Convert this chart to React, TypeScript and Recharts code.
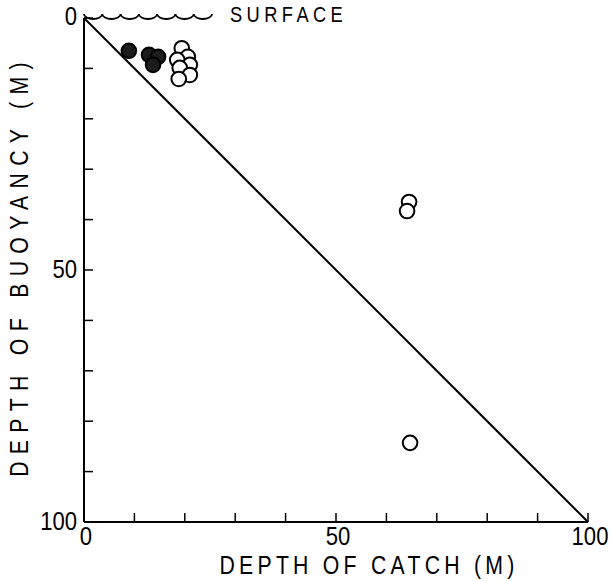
import { ScatterChart, Scatter, XAxis, YAxis, ReferenceLine, Label } from 'recharts';

const FONT = '"Liberation Sans", Arial, Helvetica, sans-serif';

// depths in metres
const axisTicks = [0, 10, 20, 30, 40, 50, 60, 70, 80, 90, 100];
const labelledTicks = [0, 50, 100];

const filledCatchDepth = [8.9, 12.9, 14.7, 13.7];
const filledBuoyDepth = [6.5, 7.3, 7.7, 9.3];

const openCatchDepth = [19.4, 20.6, 18.5, 21.0, 19.0, 21.0, 18.8, 64.5, 64.1, 64.7];
const openBuoyDepth = [6.0, 7.7, 8.3, 9.3, 9.9, 11.3, 12.1, 36.5, 38.3, 84.3];

const surfaceSpan = [0, 25.4];
const surfaceScallops = 7;
const surfaceText = 'SURFACE';
const xTitle = 'DEPTH OF CATCH (M)';
const yTitle = 'DEPTH OF BUOYANCY (M)';

const filledPts = filledCatchDepth.map((c, i) => ({ c, b: filledBuoyDepth[i] }));
const openPts = openCatchDepth.map((c, i) => ({ c, b: openBuoyDepth[i] }));

// condensed-looking text: squeeze Liberation Sans horizontally
const Txt = ({ x, y, size, sx = 0.85, ls = 0, anchor = 'start', rotate = 0, children }: any) => (
  <text
    transform={`translate(${x},${y}) rotate(${rotate}) scale(${sx},1)`}
    textAnchor={anchor}
    dominantBaseline="central"
    fontFamily={FONT}
    fontSize={size}
    letterSpacing={ls}
    fill="#000"
  >
    {children}
  </text>
);

const OpenDot = (p: any) => <circle cx={p.cx} cy={p.cy} r={7.3} fill="#fff" stroke="#000" strokeWidth={2} />;
const FilledDot = (p: any) => <circle cx={p.cx} cy={p.cy} r={7.3} fill="#1c1c1c" stroke="#000" strokeWidth={2} />;

const SurfaceWave = (p: any) => {
  const { x1, y1, x2 } = p;
  const w = (x2 - x1) / surfaceScallops;
  let d = `M${x1},${y1 - 4}`;
  for (let i = 1; i <= surfaceScallops; i++) d += ` A${w / 2},5 0 0 0 ${x1 + i * w},${y1 - 4}`;
  return (
    <g>
      <path d={d} fill="none" stroke="#000" strokeWidth={1.8} />
      <Txt x={x2 + 18} y={y1 - 3.5} size={21.5} ls={5.2}>{surfaceText}</Txt>
    </g>
  );
};

const XTick = (p: any) => {
  const v = p.payload.value;
  if (!labelledTicks.includes(v)) return null;
  return <Txt x={p.x + 2} y={p.y + 14} size={26} anchor="middle">{v}</Txt>;
};

const YTick = (p: any) => {
  const v = p.payload.value;
  if (!labelledTicks.includes(v)) return null;
  return <Txt x={p.x - 7} y={p.y + (v === 0 ? -2 : -1)} size={26} anchor="end">{v}</Txt>;
};

const XTitle = (p: any) => {
  const vb = p.viewBox || {};
  return <Txt x={vb.x + vb.width / 2 + 33} y={565} size={25} ls={5} anchor="middle">{xTitle}</Txt>;
};

const YTitle = (p: any) => {
  const vb = p.viewBox || {};
  return <Txt x={19} y={vb.y + vb.height / 2 - 4} size={25} ls={8.6} anchor="middle" rotate={-90}>{yTitle}</Txt>;
};

export default function App() {
  return (
    <div style={{ position: 'fixed', top: 0, left: 0, width: 611, height: 581, background: '#fff' }}>
      <ScatterChart width={611} height={581} margin={{ top: 18, right: 23, bottom: 0, left: 0 }}>
        <XAxis
          type="number"
          dataKey="c"
          domain={[0, 100]}
          ticks={axisTicks}
          interval={0}
          height={59}
          tickSize={-9}
          tickMargin={9}
          tick={<XTick />}
          axisLine={{ stroke: '#000', strokeWidth: 2 }}
          tickLine={{ stroke: '#000', strokeWidth: 1.5 }}
        >
          <Label content={<XTitle />} />
        </XAxis>
        <YAxis
          type="number"
          dataKey="b"
          domain={[0, 100]}
          reversed
          ticks={axisTicks}
          interval={0}
          width={84}
          tickSize={-9}
          tickMargin={9}
          tick={<YTick />}
          axisLine={{ stroke: '#000', strokeWidth: 2 }}
          tickLine={{ stroke: '#000', strokeWidth: 1.5 }}
        >
          <Label content={<YTitle />} />
        </YAxis>
        <ReferenceLine segment={[{ x: 0, y: 0 }, { x: 100, y: 100 }]} stroke="#000" strokeWidth={2} ifOverflow="visible" />
        <ReferenceLine
          segment={[{ x: surfaceSpan[0], y: 0 }, { x: surfaceSpan[1], y: 0 }]}
          ifOverflow="visible"
          shape={SurfaceWave}
        />
        <Scatter data={filledPts} isAnimationActive={false} shape={FilledDot} />
        <Scatter data={openPts} isAnimationActive={false} shape={OpenDot} />
      </ScatterChart>
    </div>
  );
}
